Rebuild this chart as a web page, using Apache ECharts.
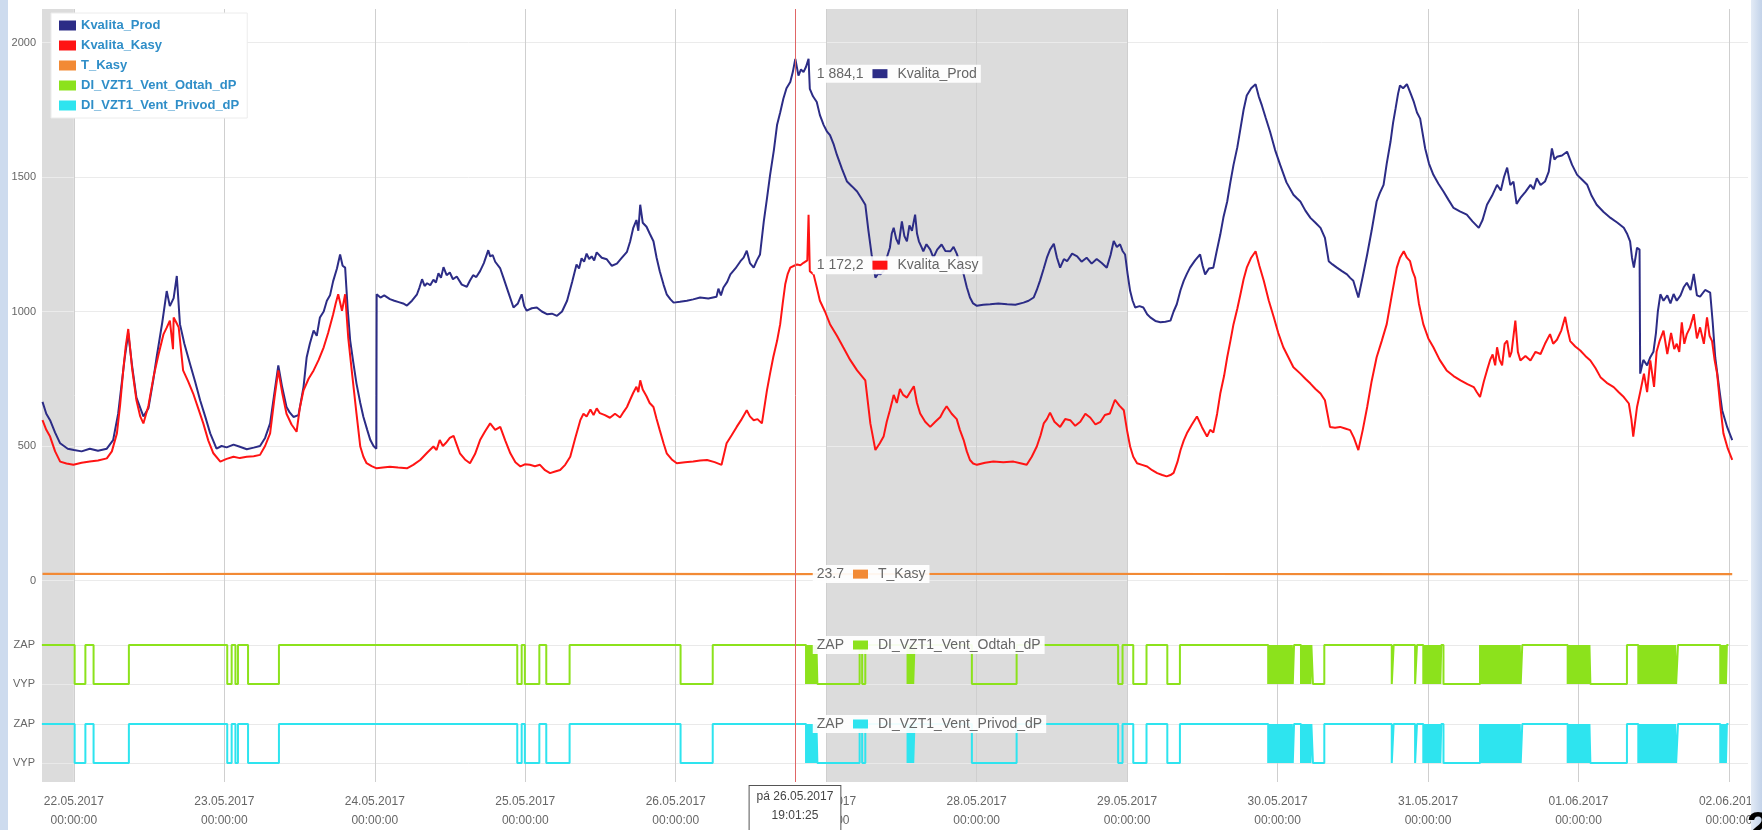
<!DOCTYPE html>
<html>
<head>
<meta charset="utf-8">
<script src="https://cdn.jsdelivr.net/npm/echarts@6/dist/echarts.min.js"></script>
<style>
html,body{margin:0;padding:0;background:#fff;overflow:hidden;}
#c{width:1762px;height:830px;}
</style>
</head>
<body>
<div id="c"></div>
<script>
// ---- DATA (hours from 22.05.2017 00:00, value) ----
const seriesNames = ['Kvalita_Prod','Kvalita_Kasy','T_Kasy','DI_VZT1_Vent_Odtah_dP','DI_VZT1_Vent_Privod_dP'];
const stateLabels = ['VYP','ZAP'];
const weekendBands = [[-5.08, 0], [120, 168]];   // shaded (weekend) intervals, hours
const cursorHour = 115 + 1/60 + 25/3600;          // 26.05.2017 19:01:25
const cursorValues = [1884.1, 1172.2, 23.7, 1, 1];

const prodPoints = [[-5.0,664],[-4.4,620],[-3.8,596],[-3.0,550],[-2.2,510],[-1.0,490],[0,485],[1.2,480],[2.5,490],[3.8,482],[5.2,490],[6.2,522],[7.0,620],[8.0,820],[8.6,920],[9.2,800],[9.9,680],[11.0,610],[11.8,640],[12.6,750],[13.1,830],[14.0,960],[14.7,1076],[15.2,1020],[15.8,1050],[16.3,1132],[16.8,953],[17.5,880],[18.4,805],[19.2,740],[20.0,670],[20.8,610],[21.6,547],[22.6,490],[23.4,500],[24.2,495],[25.3,505],[26.3,497],[27.4,488],[28.5,494],[29.5,500],[30.3,530],[31.1,584],[31.8,700],[32.4,800],[33.0,720],[33.7,645],[34.2,625],[34.8,608],[35.6,615],[36.4,720],[36.9,830],[37.4,880],[38.0,929],[38.5,910],[39.0,978],[39.6,1000],[40.1,1040],[40.6,1060],[41.1,1113],[41.7,1160],[42.2,1212],[42.6,1170],[43.0,1163],[43.4,1010],[43.8,892],[44.3,810],[44.8,732],[45.4,660],[45.9,608],[46.5,560],[47.0,522],[47.5,500],[47.95,490],[48.0,1064],[48.6,1052],[49.2,1060],[50.1,1046],[50.8,1040],[51.5,1035],[52.2,1030],[52.8,1022],[53.6,1040],[54.4,1064],[54.8,1090],[55.2,1120],[55.6,1095],[56.0,1105],[56.5,1098],[57.0,1118],[57.4,1108],[57.8,1142],[58.2,1125],[58.6,1165],[59.1,1135],[59.6,1145],[60.1,1120],[60.7,1130],[61.5,1100],[62.3,1092],[62.8,1115],[63.3,1135],[63.8,1128],[64.4,1150],[65.0,1180],[65.7,1228],[66.0,1205],[66.4,1210],[66.8,1185],[67.1,1190],[67.6,1160],[68.1,1126],[68.9,1070],[69.7,1015],[70.4,1030],[71.0,1064],[71.4,1020],[71.8,1003],[72.6,1012],[73.4,1015],[74.2,1000],[75.0,990],[75.8,992],[76.6,984],[77.4,1000],[78.2,1040],[79.0,1110],[79.7,1175],[80.1,1160],[80.5,1198],[80.9,1185],[81.3,1215],[81.7,1195],[82.1,1205],[82.5,1190],[82.9,1220],[83.7,1200],[84.5,1194],[85.3,1170],[86.1,1178],[86.9,1200],[87.7,1222],[88.2,1260],[88.7,1311],[89.2,1340],[89.5,1300],[89.8,1397],[90.2,1330],[90.8,1315],[91.3,1290],[91.9,1261],[92.4,1200],[92.9,1150],[93.5,1100],[94.0,1064],[94.6,1045],[95.1,1033],[96.1,1036],[97.2,1040],[98.2,1045],[99.3,1052],[100.6,1048],[101.9,1055],[102.2,1085],[102.6,1060],[103.0,1089],[103.6,1110],[104.1,1138],[104.9,1160],[105.7,1187],[106.2,1200],[106.7,1226],[107.2,1180],[107.8,1163],[108.3,1190],[108.8,1212],[109.4,1335],[109.9,1420],[110.4,1508],[111.0,1600],[111.5,1693],[112.0,1740],[112.5,1791],[113.0,1830],[113.6,1853],[114.0,1890],[114.4,1939],[114.9,1877],[115.3,1900],[115.7,1890],[116.1,1910],[116.5,1939],[116.7,1828],[117.2,1800],[117.8,1779],[118.3,1730],[118.9,1693],[119.4,1670],[119.9,1656],[120.5,1620],[121.0,1582],[121.8,1530],[122.6,1483],[123.4,1465],[124.2,1446],[124.9,1420],[125.5,1397],[126.0,1300],[126.5,1212],[127.1,1126],[127.5,1140],[127.9,1138],[128.4,1150],[128.9,1200],[129.4,1237],[129.7,1290],[130.0,1311],[130.4,1270],[130.8,1250],[131.3,1335],[131.7,1280],[132.1,1261],[132.5,1320],[132.9,1300],[133.4,1360],[133.7,1290],[134.0,1261],[134.4,1240],[134.7,1224],[135.2,1250],[135.8,1230],[136.3,1200],[136.9,1230],[137.6,1249],[138.2,1225],[139.0,1224],[139.5,1240],[140.0,1215],[140.5,1180],[141.1,1138],[141.6,1090],[142.1,1052],[142.6,1030],[143.2,1021],[144.2,1025],[145.3,1027],[146.6,1030],[148.0,1027],[149.3,1025],[150.6,1033],[151.4,1040],[152.2,1052],[152.7,1080],[153.2,1114],[153.8,1160],[154.3,1200],[154.8,1230],[155.4,1252],[155.9,1200],[156.4,1163],[157.0,1195],[157.5,1187],[158.3,1215],[159.1,1205],[159.8,1185],[160.6,1200],[161.4,1178],[162.2,1195],[163.0,1180],[163.8,1163],[164.4,1210],[164.9,1262],[165.4,1240],[165.9,1250],[166.3,1225],[166.7,1212],[167.1,1140],[167.5,1077],[167.9,1040],[168.3,1015],[169.0,1020],[169.6,1015],[170.2,990],[170.7,978],[171.5,965],[172.3,960],[173.1,962],[173.9,966],[174.4,1000],[174.9,1027],[175.5,1080],[176.0,1114],[176.5,1140],[177.0,1163],[177.8,1190],[178.6,1212],[179.0,1170],[179.4,1138],[180.0,1160],[180.7,1163],[181.2,1220],[181.8,1286],[182.3,1350],[182.9,1409],[183.4,1480],[183.9,1545],[184.5,1610],[185.0,1680],[185.5,1750],[186.0,1803],[186.7,1830],[187.4,1845],[187.9,1800],[188.4,1766],[189.0,1720],[189.7,1668],[190.5,1600],[191.3,1545],[192.3,1480],[193.4,1434],[194.0,1420],[194.5,1409],[195.3,1375],[196.1,1348],[196.9,1330],[197.7,1311],[198.4,1274],[199.0,1187],[199.6,1175],[200.3,1163],[201.1,1150],[201.9,1138],[202.4,1125],[202.9,1114],[203.7,1052],[204.4,1130],[205.1,1212],[205.8,1300],[206.6,1409],[207.1,1440],[207.7,1471],[208.2,1550],[208.8,1631],[209.2,1700],[209.6,1754],[210.0,1810],[210.3,1840],[210.8,1830],[211.4,1845],[212.0,1810],[212.5,1779],[213.0,1740],[213.5,1717],[214.3,1606],[214.9,1550],[215.6,1508],[216.4,1475],[217.2,1446],[218.0,1415],[218.8,1385],[219.8,1372],[220.9,1360],[221.8,1335],[222.8,1311],[223.4,1340],[224.1,1397],[224.9,1430],[225.7,1471],[226.3,1450],[226.8,1500],[227.3,1535],[227.8,1470],[228.3,1483],[228.8,1400],[229.4,1422],[230.2,1445],[231.0,1471],[231.5,1455],[232.0,1495],[232.6,1470],[233.3,1483],[233.9,1520],[234.4,1606],[234.8,1565],[235.2,1575],[236.0,1580],[236.8,1594],[237.6,1545],[238.4,1508],[239.2,1490],[240.0,1471],[240.7,1430],[241.5,1397],[242.6,1370],[243.7,1348],[244.8,1330],[245.8,1311],[246.3,1290],[246.8,1261],[247.1,1200],[247.4,1163],[247.9,1237],[248.3,1230],[248.4,769],[248.9,820],[249.5,800],[250.0,830],[250.5,850],[250.9,920],[251.2,1000],[251.6,1064],[252.1,1040],[252.7,1060],[253.2,1030],[253.7,1065],[254.2,1040],[254.8,1060],[255.3,1090],[255.8,1107],[256.4,1080],[256.9,1140],[257.4,1060],[257.9,1055],[258.7,1080],[259.5,1070],[259.9,960],[260.3,830],[260.9,720],[261.4,633],[262.2,570],[263.0,522]];

const kasyPoints = [[-5.0,596],[-4.4,560],[-3.8,535],[-3.0,480],[-2.2,442],[-1.2,435],[-0.1,430],[1.2,438],[2.5,442],[3.8,446],[5.2,454],[6.0,480],[6.8,547],[7.3,650],[7.8,780],[8.2,870],[8.6,935],[9.2,790],[9.9,670],[10.5,610],[11.0,584],[11.8,650],[12.6,756],[13.4,840],[14.2,916],[14.7,940],[15.2,966],[15.7,860],[15.8,978],[16.2,960],[16.6,941],[17.0,850],[17.3,781],[18.1,740],[18.9,695],[19.7,640],[20.5,584],[21.3,520],[22.1,473],[23.2,442],[24.2,452],[25.3,460],[26.3,455],[27.4,460],[28.5,462],[29.5,467],[30.3,500],[31.1,547],[31.8,680],[32.4,781],[33.0,700],[33.7,620],[34.5,580],[35.3,553],[35.8,640],[36.4,707],[37.2,750],[38.0,781],[38.8,820],[39.6,867],[40.3,920],[41.1,990],[41.5,1030],[41.9,1064],[42.5,1003],[43.0,1064],[43.5,900],[44.1,769],[44.8,620],[45.4,498],[45.9,460],[46.4,436],[47.2,425],[48.0,417],[49.0,420],[50.1,423],[51.4,420],[52.8,417],[53.8,430],[54.9,448],[56.0,475],[57.0,498],[57.5,485],[58.0,522],[58.5,500],[59.0,512],[59.6,530],[60.2,538],[60.7,505],[61.2,473],[62.0,450],[62.8,436],[63.6,470],[64.4,522],[65.2,555],[66.0,584],[66.8,560],[67.6,571],[68.4,520],[69.2,473],[70.0,440],[70.8,424],[71.5,432],[72.3,430],[73.1,425],[73.9,430],[74.7,410],[75.5,399],[76.3,405],[77.1,411],[77.9,430],[78.7,460],[79.5,530],[80.3,596],[80.8,620],[81.3,610],[81.9,636],[82.4,615],[82.9,640],[83.4,622],[84.2,615],[85.0,605],[85.8,620],[86.6,606],[87.2,628],[87.7,645],[88.2,672],[88.7,698],[89.2,720],[89.5,700],[89.8,744],[90.2,710],[90.8,685],[91.3,660],[91.9,645],[92.4,600],[92.9,559],[93.5,510],[94.0,473],[94.8,450],[95.6,436],[96.9,440],[98.2,442],[99.3,446],[100.4,448],[101.6,440],[102.7,430],[103.5,510],[104.3,540],[105.1,571],[105.9,600],[106.7,633],[107.2,610],[107.8,596],[108.4,600],[109.1,584],[109.9,707],[110.4,770],[110.9,830],[111.5,890],[112.0,953],[112.4,1030],[112.8,1101],[113.2,1140],[113.6,1163],[114.2,1170],[114.7,1175],[115.2,1172],[115.7,1181],[116.3,1190],[116.5,1360],[116.7,1150],[117.3,1138],[117.8,1090],[118.3,1040],[119.1,1000],[119.9,953],[121.0,910],[122.0,867],[123.1,820],[124.2,781],[125.5,744],[126.3,584],[127.1,485],[127.8,510],[128.4,535],[128.9,590],[129.4,633],[129.8,670],[130.0,690],[130.5,660],[131.0,712],[131.5,690],[132.1,680],[132.6,700],[133.2,722],[133.7,660],[134.2,621],[135.0,590],[135.8,571],[136.6,590],[137.4,608],[137.9,630],[138.4,648],[139.2,620],[140.0,600],[140.5,560],[141.1,522],[141.6,480],[142.1,448],[142.6,435],[143.2,430],[144.5,438],[145.8,442],[147.4,440],[149.0,442],[150.1,436],[151.1,430],[151.9,460],[152.7,498],[153.3,540],[153.8,584],[154.3,600],[154.8,624],[155.5,590],[156.4,571],[157.2,600],[158.0,596],[158.8,575],[159.6,590],[160.4,620],[161.2,605],[162.0,580],[162.8,590],[163.5,615],[164.3,621],[165.1,672],[165.8,650],[166.5,633],[167.0,560],[167.5,498],[168.0,460],[168.6,436],[169.4,430],[170.2,424],[171.0,410],[171.8,399],[172.6,392],[173.3,387],[173.9,392],[174.4,400],[175.0,440],[175.5,485],[176.0,520],[176.5,547],[177.3,580],[178.1,610],[178.9,570],[179.7,535],[180.2,560],[180.7,550],[181.3,620],[181.8,695],[182.4,760],[182.9,830],[183.4,890],[183.9,953],[184.5,1010],[185.0,1064],[185.5,1120],[186.0,1163],[186.7,1200],[187.4,1224],[188.0,1170],[188.7,1114],[189.5,1040],[190.3,978],[191.0,920],[191.8,867],[192.6,830],[193.4,793],[194.5,769],[195.3,750],[196.1,732],[196.9,712],[197.7,695],[198.4,670],[199.2,571],[200.0,568],[200.8,571],[201.6,565],[202.4,559],[203.0,530],[203.7,485],[204.4,560],[205.1,645],[205.8,740],[206.6,830],[207.4,890],[208.2,953],[209.0,1060],[209.8,1163],[210.3,1200],[210.9,1224],[211.4,1200],[211.9,1187],[212.3,1150],[212.7,1126],[213.3,1030],[214.0,953],[214.8,900],[215.6,867],[216.6,820],[217.7,781],[218.8,760],[219.9,744],[221.0,730],[222.0,719],[222.5,700],[223.0,682],[223.6,740],[224.1,781],[224.6,820],[225.0,840],[225.4,800],[225.7,867],[226.1,820],[226.5,800],[226.9,880],[227.3,892],[227.7,830],[228.0,850],[228.6,966],[229.0,850],[229.4,818],[230.2,835],[231.0,818],[231.8,850],[232.6,842],[233.3,880],[234.1,916],[234.6,880],[235.2,895],[235.9,930],[236.5,980],[236.9,930],[237.3,890],[238.1,870],[238.9,855],[239.7,835],[240.5,818],[241.3,790],[242.1,756],[243.1,735],[244.2,719],[245.0,700],[245.8,682],[246.6,658],[247.0,600],[247.3,535],[247.9,645],[248.4,700],[249.0,769],[249.5,700],[250.0,818],[250.6,720],[251.0,850],[251.5,892],[252.1,929],[252.7,842],[253.3,920],[253.8,860],[254.2,880],[254.6,850],[255.0,960],[255.4,880],[255.8,916],[256.3,940],[256.9,990],[257.4,900],[257.9,941],[258.5,880],[259.0,978],[259.4,910],[259.8,890],[260.2,820],[260.6,769],[261.1,650],[261.6,547],[262.3,490],[263.0,448]];

const tKasyPoints = [[-5.0,25.0],[12,24.2],[36,24.6],[60,25.2],[84,24.3],[108,23.6],[132,24.1],[156,24.8],[180,24.2],[204,23.7],[228,23.3],[252,23.6],[263,23.4]];

// [hour, state] transitions, 1 = ZAP, 0 = VYP
const odtahSteps = [[-5.1,1],[0.1,0],[1.8,1],[3.1,0],[8.7,1],[24.3,0],[25.0,1],[25.6,0],[26.0,1],[27.6,0],[32.5,1],[70.3,0],[71.0,1],[71.5,0],[73.8,1],[74.9,0],[78.6,1],[96.2,0],[101.3,1],
[116.1,0],[116.25,1],[116.4,0],[116.55,1],[116.7,0],[116.85,1],[117.0,0],[117.15,1],[117.3,0],[117.45,1],[117.6,0],[117.75,1],[117.9,0],
[124.6,1],[125.0,0],[125.5,1],
[132.2,0],[132.35,1],[132.5,0],[132.65,1],[132.8,0],[132.95,1],[133.1,0],[133.3,1],
[142.4,0],[149.5,1],[165.6,0],[166.3,1],[168.0,0],[170.1,1],[173.4,0],[175.4,1],
[189.4,0],[189.55,1],[189.7,0],[189.85,1],[190.0,0],[190.15,1],[190.3,0],[190.45,1],[190.6,0],[190.75,1],[190.9,0],[191.05,1],[191.2,0],[191.35,1],[191.5,0],[191.65,1],[191.8,0],[191.95,1],[192.1,0],[192.25,1],[192.4,0],[192.55,1],[192.7,0],[192.85,1],[193.0,0],[193.15,1],[193.3,0],[193.5,1],
[194.6,0],[194.75,1],[194.9,0],[195.05,1],[195.2,0],[195.35,1],[195.5,0],[195.65,1],[195.8,0],[195.95,1],[196.1,0],[196.25,1],[196.5,0],[198.3,1],
[209.0,0],[209.3,1],[212.7,0],[213.0,1],
[214.0,0],[214.15,1],[214.3,0],[214.45,1],[214.6,0],[214.75,1],[214.9,0],[215.05,1],[215.2,0],[215.35,1],[215.5,0],[215.65,1],[215.8,0],[215.95,1],[216.1,0],[216.25,1],[216.4,0],[216.55,1],[216.7,0],[216.85,1],[217.2,0],
[223.0,1],[223.15,0],[223.3,1],[223.45,0],[223.6,1],[223.75,0],[223.9,1],[224.05,0],[224.2,1],[224.35,0],[224.5,1],[224.65,0],[224.8,1],[224.95,0],[225.1,1],[225.25,0],[225.4,1],[225.55,0],[225.7,1],[225.85,0],[226.0,1],[226.15,0],[226.3,1],[226.45,0],[226.6,1],[226.75,0],[226.9,1],[227.05,0],[227.2,1],[227.35,0],[227.5,1],[227.65,0],[227.8,1],[227.95,0],[228.1,1],[228.25,0],[228.4,1],[228.55,0],[228.7,1],[228.85,0],[229.0,1],[229.15,0],[229.3,1],[229.45,0],[229.7,1],
[236.9,0],[237.05,1],[237.2,0],[237.35,1],[237.5,0],[237.65,1],[237.8,0],[237.95,1],[238.1,0],[238.25,1],[238.4,0],[238.55,1],[238.7,0],[238.85,1],[239.0,0],[239.15,1],[239.3,0],[239.45,1],[239.6,0],[239.75,1],[239.9,0],[240.05,1],[240.2,0],[240.35,1],[240.5,0],
[246.3,1],
[248.1,0],[248.25,1],[248.4,0],[248.55,1],[248.7,0],[248.85,1],[249.0,0],[249.15,1],[249.3,0],[249.45,1],[249.6,0],[249.75,1],[249.9,0],[250.05,1],[250.2,0],[250.35,1],[250.5,0],[250.65,1],[250.8,0],[250.95,1],[251.1,0],[251.25,1],[251.4,0],[251.55,1],[251.7,0],[251.85,1],[252.0,0],[252.15,1],[252.3,0],[252.45,1],[252.6,0],[252.75,1],[252.9,0],[253.05,1],[253.2,0],[253.35,1],[253.5,0],[253.65,1],[253.8,0],[253.95,1],[254.1,0],[254.4,1],
[261.1,0],[261.25,1],[261.4,0],[261.55,1],[261.7,0],[261.85,1],[262.0,0],[262.15,1],[262.4,1]];

// Privod signal follows the same switching pattern as Odtah in the source picture
const privodSteps = odtahSteps.map(p => p.slice());

const xRangeHours = [-5.08, 265.5];
const mainTicks = {min: 0, max: 2000, interval: 500};

// ---- helpers ----
const HOUR = 3600000, DAY = 86400000;
const base = new Date(2017, 4, 22, 0, 0, 0).getTime();
const T = h => base + h * HOUR;
const toData = pts => pts.map(p => [T(p[0]), p[1]]);
const pad = n => (n < 10 ? '0' : '') + n;
const fmtCz = v => { const s = v.toFixed(1).split('.'); return s[0].replace(/\B(?=(\d{3})+(?!\d))/g, ' ') + ',' + s[1]; };
const cursorTime = T(cursorHour);
const cd = new Date(cursorTime);
const czDays = ['ne','po','út','st','čt','pá','so'];
const cursorText = czDays[cd.getDay()] + ' ' + pad(cd.getDate()) + '.' + pad(cd.getMonth()+1) + '.' + cd.getFullYear() + '\n' + pad(cd.getHours()) + ':' + pad(cd.getMinutes()) + ':' + pad(cd.getSeconds());

const colors = ['#2c2c86', '#ff1414', '#f28a35', '#8ce21c', '#2ee4ef'];
const FONT = 'Liberation Sans';

function tipLabel(idx, valueText) {
  return {
    z: 8,
    symbol: 'circle', symbolSize: 1,
    itemStyle: {color: 'rgba(0,0,0,0)'},
    data: [{coord: [cursorTime, cursorValues[idx]]}],
    label: {
      show: true, position: 'right', distance: 13,
      formatter: '{v|' + valueText + '}{sq|}{n|' + seriesNames[idx] + '}',
      backgroundColor: 'rgba(255,255,255,0.92)',
      padding: [2, 4, 2, 4],
      rich: {
        v: {fontSize: 14, color: '#666', fontFamily: FONT, padding: [0, 9, 0, 0]},
        sq: {width: 15, height: 9, backgroundColor: colors[idx]},
        n: {fontSize: 14, color: '#666', fontFamily: FONT, padding: [0, 0, 0, 10]}
      }
    }
  };
}

const xMin = T(xRangeHours[0]), xMax = T(xRangeHours[1]);
const gridLR = {left: 42, right: 14};
function hiddenX(gi) {
  return {type: 'time', gridIndex: gi, min: xMin, max: xMax, show: false};
}
function stateAxis(gi) {
  return {
    type: 'value', gridIndex: gi, min: 0, max: 1, interval: 1, z: 2,
    axisLine: {show: false}, axisTick: {show: false},
    splitLine: {show: true, lineStyle: {color: '#e9e9e9'}},
    axisLabel: {fontSize: 11, color: '#666', margin: 7, formatter: v => stateLabels[v]}
  };
}

const option = {
  animation: false,
  backgroundColor: '#fff',
  textStyle: {fontFamily: FONT},
  grid: [
    Object.assign({top: 9, bottom: 42}, gridLR),
    Object.assign({top: 42.5, bottom: 249.5}, gridLR),
    Object.assign({top: 645, bottom: 146}, gridLR),
    Object.assign({top: 724, bottom: 67}, gridLR)
  ],
  xAxis: [
    {
      type: 'time', gridIndex: 0, min: xMin, max: xMax, z: 2,
      minInterval: DAY, maxInterval: DAY,
      axisLine: {show: false}, axisTick: {show: false},
      splitLine: {show: true, showMinLine: false, showMaxLine: false, lineStyle: {color: '#cfcfcf', width: 1}},
      axisLabel: {
        fontSize: 12, color: '#666', lineHeight: 19, margin: 10,
        showMinLabel: false, showMaxLabel: false, hideOverlap: false,
        formatter: function (v) {
          const d = new Date(v);
          return pad(d.getDate()) + '.' + pad(d.getMonth()+1) + '.' + d.getFullYear() + '\n' +
                 pad(d.getHours()) + ':' + pad(d.getMinutes()) + ':' + pad(d.getSeconds());
        }
      }
    },
    hiddenX(1), hiddenX(2), hiddenX(3)
  ],
  yAxis: [
    {type: 'value', gridIndex: 0, min: 0, max: 1, show: false},
    {
      type: 'value', gridIndex: 1, min: mainTicks.min, max: mainTicks.max, interval: mainTicks.interval, z: 2,
      axisLine: {show: false}, axisTick: {show: false},
      splitLine: {show: true, lineStyle: {color: '#ebebeb'}},
      axisLabel: {fontSize: 11, color: '#666', margin: 6, formatter: v => String(v)}
    },
    stateAxis(2),
    stateAxis(3)
  ],
  legend: {
    orient: 'vertical', left: 51, top: 13, z: 20,
    data: seriesNames.map(n => ({name: n, icon: 'rect'})),
    backgroundColor: '#fff', borderColor: '#ececec', borderWidth: 1,
    padding: [6, 8, 6, 8],
    itemWidth: 17, itemHeight: 10, itemGap: 7,
    textStyle: {fontSize: 13, fontWeight: 'bold', color: '#2f8ec8', lineHeight: 12, fontFamily: FONT}
  },
  series: [
    {
      name: 'bg', type: 'line', xAxisIndex: 0, yAxisIndex: 0, z: 1, silent: true,
      data: [[xMin, 0], [xMax, 0]], symbol: 'none', lineStyle: {opacity: 0},
      markArea: {
        z: 1, silent: true,
        itemStyle: {color: '#dcdcdc'},
        data: weekendBands.map(b => [{xAxis: T(b[0])}, {xAxis: T(b[1])}])
      }
    },
    {
      name: 'cursor', type: 'line', xAxisIndex: 0, yAxisIndex: 0, z: 9, silent: true,
      data: [], symbol: 'none',
      markLine: {
        z: 9, silent: true, symbol: 'none', animation: false,
        lineStyle: {color: '#e06666', width: 1, type: 'solid'},
        data: [{xAxis: cursorTime}],
        label: {
          show: true, position: 'start', distance: 4,
          formatter: cursorText,
          fontSize: 12, color: '#444', lineHeight: 19, fontFamily: FONT,
          backgroundColor: '#fff', borderColor: '#555', borderWidth: 1,
          padding: [1, 7, 6, 7]
        }
      }
    },
    {
      name: seriesNames[0], type: 'line', xAxisIndex: 1, yAxisIndex: 1, z: 4,
      data: toData(prodPoints), symbol: 'none', color: colors[0],
      lineStyle: {width: 2, color: colors[0]},
      markPoint: tipLabel(0, fmtCz(cursorValues[0]))
    },
    {
      name: seriesNames[1], type: 'line', xAxisIndex: 1, yAxisIndex: 1, z: 4,
      data: toData(kasyPoints), symbol: 'none', color: colors[1],
      lineStyle: {width: 2, color: colors[1]},
      markPoint: tipLabel(1, fmtCz(cursorValues[1]))
    },
    {
      name: seriesNames[2], type: 'line', xAxisIndex: 1, yAxisIndex: 1, z: 4,
      data: toData(tKasyPoints), symbol: 'none', color: colors[2],
      lineStyle: {width: 2.2, color: colors[2]},
      markPoint: tipLabel(2, cursorValues[2].toFixed(1))
    },
    {
      name: seriesNames[3], type: 'line', xAxisIndex: 2, yAxisIndex: 2, z: 4, step: 'end',
      data: toData(odtahSteps), symbol: 'none', color: colors[3],
      lineStyle: {width: 2, color: colors[3]},
      markPoint: tipLabel(3, stateLabels[cursorValues[3]])
    },
    {
      name: seriesNames[4], type: 'line', xAxisIndex: 3, yAxisIndex: 3, z: 4, step: 'end',
      data: toData(privodSteps), symbol: 'none', color: colors[4],
      lineStyle: {width: 2, color: colors[4]},
      markPoint: tipLabel(4, stateLabels[cursorValues[4]])
    }
  ],
  graphic: [
    {type: 'rect', shape: {x: 0, y: 0, width: 8, height: 830}, style: {fill: '#cddbee'}, z: 100, silent: true},
    {type: 'rect', shape: {x: 1751, y: 0, width: 11, height: 830},
     style: {fill: {type: 'linear', x: 0, y: 0, x2: 1, y2: 0, colorStops: [{offset: 0, color: '#e3ebf6'}, {offset: 1, color: '#c2d2e9'}]}},
     z: 100, silent: true},
    {type: 'text', x: 1747, y: 809, style: {text: '2', font: 'bold 40px "Liberation Sans"', fill: '#000'}, z: 101, silent: true}
  ]
};

const chart = echarts.init(document.getElementById('c'), null, {renderer: 'canvas'});
chart.setOption(option);
</script>
</body>
</html>
